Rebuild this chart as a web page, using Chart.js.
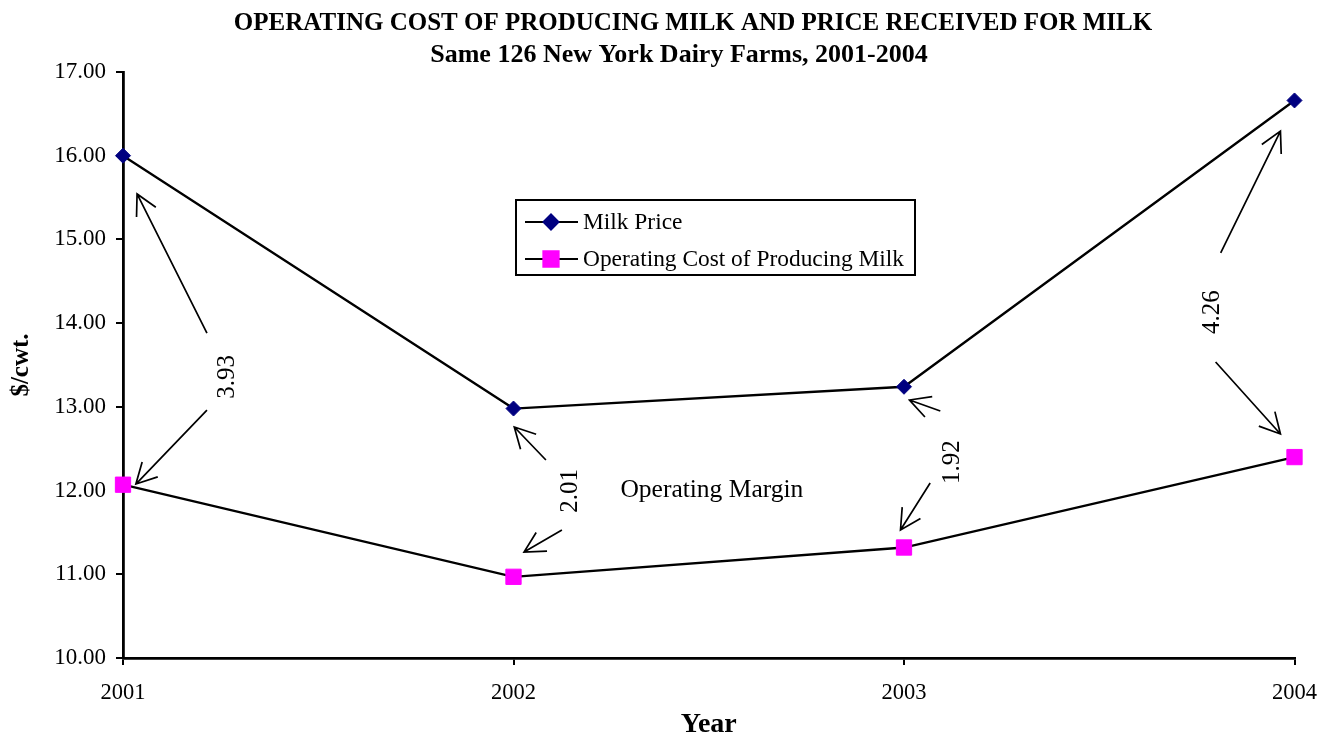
<!DOCTYPE html>
<html>
<head>
<meta charset="utf-8">
<script src="https://cdn.jsdelivr.net/npm/chart.js@4/dist/chart.umd.min.js"></script>
<style>
  body { margin: 0; background: #fff; }
  #wrap { width: 1332px; height: 737px; position: relative; }
</style>
</head>
<body>
<div id="wrap"><canvas id="myChart"></canvas></div>
<script>
let years = ["2001", "2002", "2003", "2004"];
let milkPrice = [16.00, 12.98, 13.24, 16.66];
let operatingCost = [12.07, 10.97, 11.32, 12.40];
let yTicks = [10, 11, 12, 13, 14, 15, 16, 17];
let titleLines = ["OPERATING COST OF PRODUCING MILK AND PRICE RECEIVED FOR MILK", "Same 126 New York Dairy Farms, 2001-2004"];

// where the margin notes sit, in (category index, $/cwt.) space
let notes = [
	{ text: [0.268, 13.357], up: [0.215, 13.882, 0.036, 15.543], down: [0.215, 12.962, 0.033, 12.078] },
	{ text: [1.145, 11.995], up: [1.083, 12.365, 1.002, 12.759], down: [1.124, 11.529, 1.027, 11.266] },
	{ text: [2.124, 12.341], up: [2.093, 12.950, 2.014, 13.082], down: [2.067, 12.090, 1.991, 11.529] },
	{ text: [2.790, 14.133], up: [2.811, 14.838, 2.964, 16.295], down: [2.798, 13.536, 2.964, 12.676] }
];
let marginNote = { label: "Operating Margin", at: [1.508, 12.007] };

Chart.defaults.font.family = "'Liberation Serif', 'Times New Roman', serif";
Chart.defaults.color = "#000";

function arrow(ctx, x1, y1, x2, y2) {
	let a = Math.atan2(y1 - y2, x1 - x2);
	let len = 23, spread = 28 * Math.PI / 180;
	ctx.beginPath();
	ctx.moveTo(x1, y1);
	ctx.lineTo(x2, y2);
	ctx.moveTo(x2 + len * Math.cos(a + spread), y2 + len * Math.sin(a + spread));
	ctx.lineTo(x2, y2);
	ctx.lineTo(x2 + len * Math.cos(a - spread), y2 + len * Math.sin(a - spread));
	ctx.stroke();
}

let notesPlugin = {
	id: "notes",
	afterDraw(chart) {
		let ctx = chart.ctx;
		ctx.save();
		ctx.fillStyle = "#000";
		ctx.textAlign = "center";
		ctx.textBaseline = "middle";
		ctx.font = "bold 25px 'Liberation Serif', serif";
		ctx.fillText(titleLines[0], 693, 24);
		ctx.font = "bold 26px 'Liberation Serif', serif";
		ctx.fillText(titleLines[1], 679, 55);
		ctx.restore();
	},
	afterDatasetsDraw(chart) {
		let ctx = chart.ctx;
		let xs = chart.scales.x, ys = chart.scales.y;
		let px = v => xs.getPixelForValue(v);
		let py = v => ys.getPixelForValue(v);
		ctx.save();
		ctx.strokeStyle = "#000";
		ctx.lineWidth = 1.7;
		ctx.fillStyle = "#000";
		ctx.font = "25px 'Liberation Serif', serif";
		ctx.textAlign = "center";
		ctx.textBaseline = "middle";
		notes.forEach(function(n, i) {
			arrow(ctx, px(n.up[0]), py(n.up[1]), px(n.up[2]), py(n.up[3]));
			arrow(ctx, px(n.down[0]), py(n.down[1]), px(n.down[2]), py(n.down[3]));
			let m = (milkPrice[i] - operatingCost[i]).toFixed(2);
			ctx.save();
			ctx.translate(px(n.text[0]), py(n.text[1]));
			ctx.rotate(-Math.PI / 2);
			ctx.fillText(m, 0, 0);
			ctx.restore();
		});
		ctx.font = "25.5px 'Liberation Serif', serif";
		ctx.fillText(marginNote.label, px(marginNote.at[0]), py(marginNote.at[1]));

		// legend box
		let area = chart.chartArea;
		let bx = area.left + 393, by = area.top + 128, bw = 399, bh = 75;
		ctx.lineWidth = 2;
		ctx.strokeRect(bx, by, bw, bh);
		ctx.font = "23.4px 'Liberation Serif', serif";
		ctx.textAlign = "left";
		chart.data.datasets.forEach(function(ds, i) {
			let ry = by + 22 + i * 37;
			ctx.strokeStyle = "#000";
			ctx.lineWidth = 2;
			ctx.beginPath();
			ctx.moveTo(bx + 9, ry);
			ctx.lineTo(bx + 62, ry);
			ctx.stroke();
			ctx.fillStyle = ds.pointBackgroundColor;
			ctx.strokeStyle = ds.pointBorderColor;
			Chart.helpers.drawPoint(ctx, { pointStyle: ds.pointStyle, radius: ds.pointRadius, borderWidth: 1, rotation: 0 }, bx + 35, ry);
			ctx.fillStyle = "#000";
			ctx.fillText(ds.label, bx + 67, ry + 1);
		});
		ctx.restore();
	}
};

let config = {
	type: "line",
	data: {
		labels: years,
		datasets: [{
			label: "Milk Price",
			data: milkPrice,
			borderColor: "#000",
			borderWidth: 2.3,
			pointStyle: "rectRot",
			pointRadius: 7.5,
			pointBackgroundColor: "#000080",
			pointBorderColor: "#000080",
			pointBorderWidth: 1,
			tension: 0
		}, {
			label: "Operating Cost of Producing Milk",
			data: operatingCost,
			borderColor: "#000",
			borderWidth: 2.3,
			pointStyle: "rect",
			pointRadius: 10.8,
			pointBackgroundColor: "#ff00ff",
			pointBorderColor: "#ff00ff",
			pointBorderWidth: 1,
			tension: 0
		}]
	},
	options: {
		responsive: true,
		maintainAspectRatio: false,
		animation: false,
		layout: { padding: { left: 0, right: 35, top: 72, bottom: 0 } },
		plugins: {
			legend: { display: false },
			tooltip: { enabled: false },
			title: { display: false }
		},
		scales: {
			x: {
				offset: false,
				grid: { drawOnChartArea: false, drawTicks: true, tickLength: 7, color: "#000", lineWidth: 2 },
				border: { display: true, color: "#000", width: 2.8 },
				ticks: { font: { size: 22.5 }, padding: 15, maxRotation: 0 },
				title: { display: true, text: "Year", font: { size: 28, weight: "bold", lineHeight: 1 }, padding: { top: 0, bottom: -2 } },
				afterFit: s => { s.height = 79; }
			},
			y: {
				min: 10,
				max: 17,
				afterBuildTicks: s => { s.ticks = yTicks.map(v => ({ value: v })); },
				grid: { drawOnChartArea: false, drawTicks: true, tickLength: 7, color: "#000", lineWidth: 2 },
				border: { display: true, color: "#000", width: 2.8 },
				ticks: { font: { size: 23 }, padding: 10, callback: v => Number(v).toFixed(2) },
				title: { display: true, text: "$/cwt.", font: { size: 25, weight: "bold", lineHeight: 1 }, padding: { top: 9, bottom: 0 } },
				afterFit: s => { s.width = 123; }
			}
		}
	},
	plugins: [notesPlugin]
};

let chart = new Chart("myChart", config);
</script>
</body>
</html>
